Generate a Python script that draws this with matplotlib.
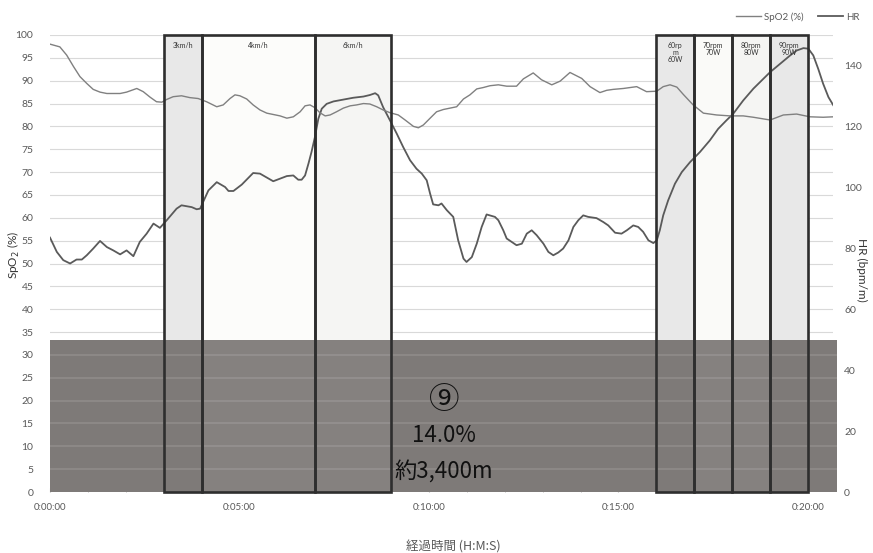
import matplotlib
matplotlib.use("Agg")
import matplotlib.pyplot as plt
from matplotlib.patches import Rectangle
from matplotlib.ticker import FuncFormatter, MultipleLocator

# elapsed time in minutes
t_spo2 = [0, 0.26, 0.44, 0.62, 0.79, 0.97, 1.14, 1.32, 1.50, 1.85, 2.02, 2.29, 2.46, 2.64,
          2.81, 2.95, 3.08, 3.25, 3.47, 3.69, 3.91, 4.13, 4.40, 4.57, 4.75, 4.88, 5.01, 5.19,
          5.36, 5.54, 5.72, 6.07, 6.25, 6.42, 6.60, 6.73, 6.86, 6.99, 7.12, 7.26, 7.39, 7.56,
          7.74, 7.92, 8.09, 8.27, 8.44, 8.62, 8.79, 8.97, 9.19, 9.37, 9.59, 9.72, 9.85, 10.03,
          10.20, 10.38, 10.73, 10.91, 11.08, 11.26, 11.43, 11.61, 11.83, 12.05, 12.31, 12.49,
          12.75, 12.97, 13.24, 13.46, 13.72, 14.03, 14.25, 14.51, 14.69, 14.86, 15.13, 15.48,
          15.74, 16.01, 16.18, 16.36, 16.54, 16.71, 16.97, 17.24, 17.59, 17.94, 18.29, 18.56,
          19.00, 19.35, 19.70, 20.05, 20.40, 20.67]
spo2 = [98.0, 97.4, 95.6, 93.1, 90.9, 89.4, 88.1, 87.5, 87.2, 87.2, 87.5, 88.3, 87.6, 86.4,
        85.4, 85.3, 85.9, 86.5, 86.7, 86.3, 86.1, 85.4, 84.3, 84.7, 86.1, 86.9, 86.7, 86.0,
        84.7, 83.6, 82.9, 82.3, 81.8, 82.1, 83.2, 84.5, 84.7, 84.1, 83.0, 82.3, 82.5, 83.2,
        84.0, 84.5, 84.7, 85.0, 84.9, 84.3, 83.6, 83.0, 82.5, 81.4, 80.0, 79.7, 80.3, 81.8,
        83.2, 83.7, 84.3, 86.0, 86.9, 88.2, 88.5, 88.9, 89.1, 88.8, 88.8, 90.4,
        91.7, 90.2, 89.1, 89.9, 91.8, 90.5, 88.7, 87.4, 87.9, 88.1, 88.3, 88.7,
        87.6, 87.7, 88.7, 89.1, 88.6, 87.0, 84.7, 82.9, 82.5, 82.3, 82.3, 82.0,
        81.4, 82.5, 82.7, 82.1, 82.0, 82.1]

t_hr = [0, 0.18, 0.35, 0.53, 0.70, 0.84, 0.97, 1.14, 1.32, 1.50, 1.67, 1.85, 2.02, 2.20,
        2.37, 2.55, 2.73, 2.90, 3.08, 3.34, 3.47, 3.74, 3.87, 3.96, 4.18, 4.40, 4.62, 4.71,
        4.84, 5.06, 5.36, 5.54, 5.89, 6.25, 6.42, 6.55, 6.64, 6.73, 6.82, 6.90, 6.99, 7.08,
        7.17, 7.30, 7.48, 7.74, 8.00, 8.27, 8.44, 8.58, 8.66, 8.79, 8.97, 9.15, 9.32, 9.50,
        9.67, 9.81, 9.94, 10.03, 10.11, 10.25, 10.33, 10.47, 10.64, 10.77, 10.91, 10.99,
        11.13, 11.26, 11.39, 11.52, 11.74, 11.83, 11.96, 12.05, 12.18, 12.31, 12.45, 12.58,
        12.71, 12.84, 13.02, 13.15, 13.28, 13.41, 13.54, 13.68, 13.81, 13.94, 14.07, 14.20,
        14.42, 14.60, 14.73, 14.91, 15.08, 15.22, 15.39, 15.52, 15.65, 15.79, 15.92, 16.01,
        16.09, 16.18, 16.31, 16.49, 16.67, 16.89, 17.15, 17.41, 17.63, 17.85, 18.03, 18.29,
        18.56, 18.82, 19.00, 19.26, 19.53, 19.70, 19.88, 20.01, 20.14, 20.27, 20.40, 20.54,
        20.67]
hr = [83.5, 78.8, 76.1, 75.0, 76.3, 76.3, 77.7, 79.9, 82.4, 80.4, 79.3, 78.0, 79.3, 77.4,
      82.1, 84.8, 88.1, 86.7, 89.2, 93.0, 94.1, 93.5, 92.8, 93.0, 99.0, 101.7, 100.1, 98.8,
      98.8, 100.9, 104.7, 104.5, 102.0, 103.7, 103.9, 102.5, 102.5, 103.9, 107.8, 111.6, 116.5, 122.5,
      125.8, 127.4, 128.2, 128.8, 129.4, 129.8, 130.3, 130.9, 130.2, 126.3, 122.0, 117.6, 113.2, 108.9,
      106.1, 104.5, 102.3, 97.9, 94.4, 94.1, 94.7, 92.5, 90.3, 82.6, 76.6, 75.5,
      77.1, 81.5, 87.0, 91.1, 90.3, 89.2, 85.9, 83.2, 82.1, 81.0, 81.5, 84.8,
      85.9, 84.3, 81.5, 78.8, 77.7, 78.6, 79.9, 82.6, 87.0, 89.2, 90.8, 90.3,
      89.9, 88.6, 87.5, 85.1, 84.8, 85.9, 87.5, 87.0, 85.4, 82.6, 81.7, 82.6,
      85.9, 90.8, 95.7, 101.2, 105.0, 108.3, 111.6, 115.4, 119.2, 122.0, 124.2, 128.5,
      132.4, 135.6, 137.8, 140.5, 143.3, 144.9, 145.7, 145.5, 143.3, 138.9, 134.0, 129.6,
      126.9]

# exercise stages
stage_start = [3, 4, 7, 16, 17, 18, 19]
stage_end = [4, 7, 9, 17, 18, 19, 20]
stage_label = ["3km/h", "4km/h", "6km/h", "60rp\nm\n60W", "70rpm\n70W", "80rpm\n80W", "90rpm\n90W"]
stage_fill = ["#e8e8e8", "#fcfcfa", "#f5f5f3", "#e8e8e8", "#fafaf8", "#f5f5f3", "#e8e8e8"]

note_lines = ["⑨", "14.0%", "約3,400m"]
note_sizes = [22, 16, 16]

plt.rcParams['font.family'] = ['Lato', 'Noto Sans CJK JP', 'DejaVu Sans']

fig = plt.figure(figsize=(8.73, 5.53), dpi=100)
ax = fig.add_axes([50 / 873, 1 - 492 / 553, 783 / 873, 457 / 553])
ax2 = ax.twinx()

ax.set_xlim(0, 20.66)
ax.set_ylim(0, 100)
ax2.set_ylim(0, 150)
ax.set_zorder(2)
ax2.set_zorder(1)
ax.patch.set_visible(False)

for y in range(5, 101, 5):
    ax2.axhline(y * 1.5, color="#d9d9d9", lw=0.8, zorder=0)

# stage fills
for s, e, f in zip(stage_start, stage_end, stage_fill):
    ax2.add_patch(Rectangle((s, 0), e - s, 150, facecolor=f, edgecolor="none", zorder=1))

ax.plot(t_spo2, spo2, color="#808080", lw=1.0, zorder=3, label="SpO2 (%)")
ax2.plot(t_hr, hr, color="#5a5a5a", lw=1.3, zorder=3, label="HR")

# gray overlay
ax.add_patch(Rectangle((0, 0), 20.77, 33.3, facecolor="#7e7a78", edgecolor="none",
                       zorder=4, clip_on=False))
for s, e, f in zip(stage_start, stage_end, stage_fill):
    if f != "#e8e8e8":
        ax.add_patch(Rectangle((s, 0), e - s, 33.3, facecolor="white", alpha=0.06,
                               edgecolor="none", zorder=4.2))
for y in range(5, 35, 5):
    ax.plot([0, 20.77], [y, y], color="white", alpha=0.13, lw=1.2, zorder=4.3, clip_on=False)

# stage outlines and labels
for s, e, lab in zip(stage_start, stage_end, stage_label):
    ax.add_patch(Rectangle((s, 0), e - s, 100, facecolor="none", edgecolor="#2e2e2e",
                           lw=1.9, zorder=5, clip_on=False))
    ax.text((s + e) / 2, 98.4, lab, ha="center", va="top", fontsize=5, color="#333333",
            linespacing=1.0, zorder=6)

note_y = [20.0, 12.3, 4.3]
for line, yy, fs in zip(note_lines, note_y, note_sizes):
    ax.text(10.4, yy, line, ha="center", va="center", fontsize=fs,
            color="#111111", family=['Noto Sans CJK JP', 'DejaVu Sans'], zorder=6)

def hms(x, pos):
    sec = int(round(x * 60))
    return "%d:%02d:%02d" % (sec // 3600, sec % 3600 // 60, sec % 60)

ax.xaxis.set_major_locator(MultipleLocator(5))
ax.xaxis.set_minor_locator(MultipleLocator(1))
ax.xaxis.set_major_formatter(FuncFormatter(hms))
ax.tick_params(axis="x", which="both", direction="in", length=3, color="#b0b0b0",
               labelsize=7, labelcolor="#595959", pad=8)
ax.yaxis.set_major_locator(MultipleLocator(5))
ax.tick_params(axis="y", length=0, labelsize=7.5, labelcolor="#595959", pad=12)
ax2.yaxis.set_major_locator(MultipleLocator(20))
ax2.tick_params(axis="y", length=0, labelsize=7.5, labelcolor="#595959", pad=8)
for a in (ax, ax2):
    for sp in a.spines.values():
        sp.set_visible(False)

fig.text(14 / 873, 1 - 255 / 553, "SpO$_2$ (%)", rotation=90, ha="center", va="center",
         fontsize=8.5, color="#333333")
fig.text(862 / 873, 1 - 270 / 553, "HR (bpm/m)", rotation=270, ha="center", va="center",
         fontsize=8.5, color="#333333")
fig.text(453 / 873, 1 - 547 / 553, "経過時間 (H:M:S)", ha="center", va="center",
         fontsize=9, color="#595959", family=['Noto Sans CJK JP', 'DejaVu Sans'])

h1, l1 = ax.get_legend_handles_labels()
h2, l2 = ax2.get_legend_handles_labels()
fig.legend(h1 + h2, l1 + l2, ncol=2, loc="center right", bbox_to_anchor=(0.995, 1 - 17 / 553),
           frameon=False, fontsize=7, handlelength=2.6, columnspacing=1.5, handletextpad=0.3,
           labelcolor="#595959")

fig.savefig("out.png", dpi=100)
